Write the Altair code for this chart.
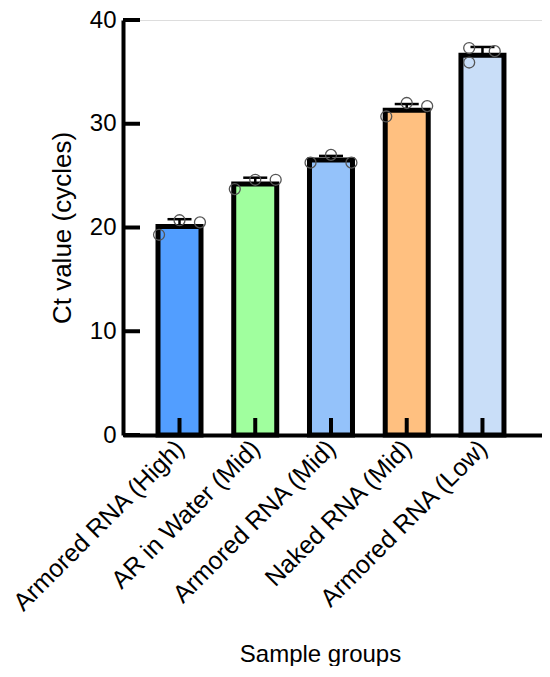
import altair as alt
import pandas as pd

groups = ["Armored RNA (High)", "AR in Water (Mid)", "Armored RNA (Mid)",
          "Naked RNA (Mid)", "Armored RNA (Low)"]
colors = ["#529EFF", "#A0FF9E", "#94C2FA", "#FFC080", "#C9DEF8"]
means = [20.1, 24.2, 26.5, 31.3, 36.6]
sds = [0.7, 0.6, 0.4, 0.6, 0.8]

# replicate points (Ct values) per group
pt_group = [g for g in groups for _ in range(3)]
pt_value = [19.3, 20.7, 20.5,
            23.7, 24.6, 24.6,
            26.25, 27.0, 26.25,
            30.7, 32.0, 31.7,
            37.3, 35.9, 37.0]
pt_rep = [-1, 0, 1,
          -1, 0, 1,
          -1, 0, 1,
          -1, 0, 1,
          -0.65, -0.65, 0.6]

y_ticks = [0, 10, 20, 30, 40]

W, H = 419, 415
FONT = "Liberation Sans"

idx = list(range(len(groups)))
bars_df = pd.DataFrame({"group": groups, "idx": idx, "mean": means, "sd": sds})
bars_df["upper"] = bars_df["mean"] + bars_df["sd"]
pts_df = pd.DataFrame({"group": pt_group, "idx": [groups.index(g) for g in pt_group],
                       "value": pt_value, "rep": pt_rep})
ticks_df = pd.DataFrame({"v": y_ticks})

label_expr = "[" + ",".join('"%s"' % g for g in groups) + "][datum.value]"

xscale = alt.Scale(domain=[-0.68, 4.72], nice=False, zero=False)
yscale = alt.Scale(domain=[0, 40], nice=False, zero=True)

x_axis = alt.Axis(values=idx, labelExpr=label_expr, labelAngle=315, labelAlign="right",
                  labelBaseline="middle", labelPadding=9, labelLimit=400,
                  labelOverlap=False, labelBound=False,
                  ticks=False, tickSize=0, grid=False,
                  domainWidth=4, domainColor="black",
                  labelFontSize=25, titleFontSize=24,
                  labelFont=FONT, titleFont=FONT, labelColor="black",
                  titleColor="black", titleFontWeight="normal",
                  titlePadding=26, titleX=197, titleAnchor="middle")

bars = alt.Chart(bars_df).mark_bar(stroke="black", strokeWidth=5, size=43).encode(
    x=alt.X("idx:Q", scale=xscale, title="Sample groups", axis=x_axis),
    y=alt.Y("mean:Q", scale=yscale, title="Ct value (cycles)",
            axis=alt.Axis(values=y_ticks, ticks=False, tickSize=0, grid=False,
                          domainWidth=4, domainColor="black",
                          labelFontSize=24, titleFontSize=26,
                          labelFont=FONT, titleFont=FONT, labelColor="black",
                          titleColor="black", titleFontWeight="normal",
                          labelPadding=7, titlePadding=14)),
    color=alt.Color("group:N", scale=alt.Scale(domain=groups, range=colors), legend=None),
)

err_rule = alt.Chart(bars_df).mark_rule(color="black", strokeWidth=2.5).encode(
    x=alt.X("idx:Q", scale=xscale),
    y=alt.Y("mean:Q", scale=yscale),
    y2="upper:Q",
)

err_cap = alt.Chart(bars_df).mark_tick(color="black", thickness=2.5, size=24,
                                       orient="horizontal", opacity=1).encode(
    x=alt.X("idx:Q", scale=xscale),
    y=alt.Y("upper:Q", scale=yscale),
)

points = alt.Chart(pts_df).transform_calculate(
    xpos="datum.idx + datum.rep * 0.27"
).mark_point(shape="circle", filled=False, size=120,
             stroke="#555555", strokeWidth=1.3, opacity=1).encode(
    x=alt.X("xpos:Q", scale=xscale),
    y=alt.Y("value:Q", scale=yscale),
)

y_tick_marks = alt.Chart(ticks_df).mark_rule(color="black", strokeWidth=4).encode(
    y=alt.Y("v:Q", scale=yscale),
    x=alt.value(0),
    x2=alt.value(17),
)

x_tick_marks = alt.Chart(bars_df).mark_rule(color="black", strokeWidth=4).encode(
    x=alt.X("idx:Q", scale=xscale),
    y=alt.value(H),
    y2=alt.value(H - 17),
)

chart = alt.layer(bars, err_rule, err_cap, points, y_tick_marks, x_tick_marks).properties(
    width=W, height=H,
    autosize=alt.AutoSizeParams(type="none"),
    padding={"left": 115, "top": 12, "right": 0, "bottom": 231},
).configure_view(stroke=None).configure(font=FONT, background="white")

chart.save("out.html", embed_options={"renderer": "svg", "actions": False})
